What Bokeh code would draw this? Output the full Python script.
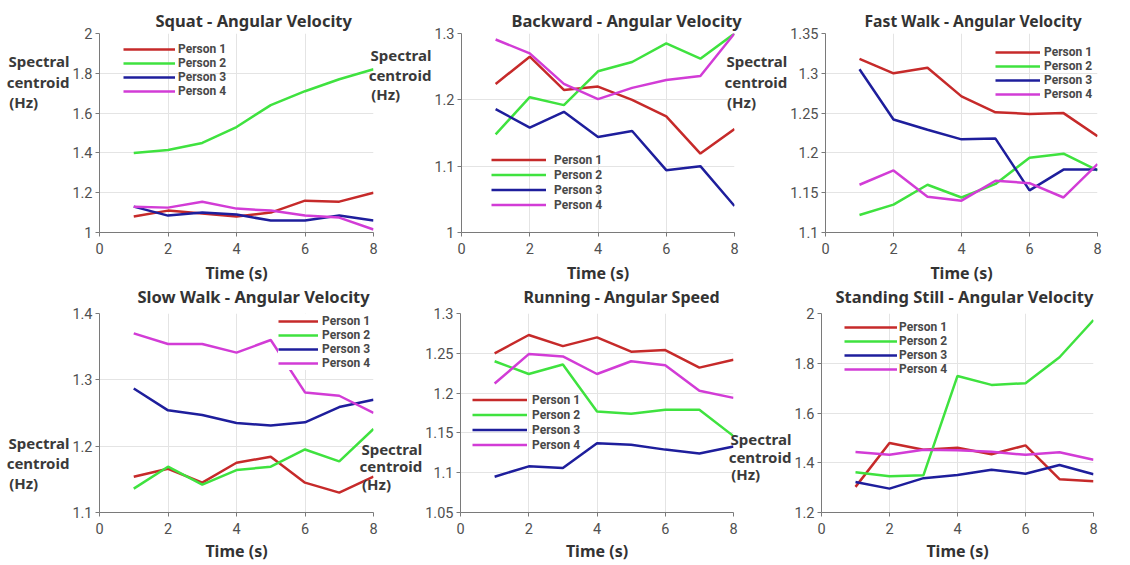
from bokeh.plotting import figure
from bokeh.layouts import row, column
from bokeh.models import FixedTicker, Legend, LegendItem, Range1d
from bokeh.embed import file_html
from bokeh.resources import INLINE

# ---------------- data ----------------
time_s = [1, 2, 3, 4, 5, 6, 7, 8]
person_names = ["Person 1", "Person 2", "Person 3", "Person 4"]
person_colors = ["#c62a2a", "#3fe23f", "#1e1e9c", "#d23cd6"]

x_ticks = [0, 2, 4, 6, 8]
x_tick_labels = ["0", "2", "4", "6", "8"]

squat_p1 = [1.08, 1.11, 1.095, 1.08, 1.10, 1.16, 1.155, 1.20]
squat_p2 = [1.40, 1.415, 1.45, 1.53, 1.64, 1.71, 1.77, 1.82]
squat_p3 = [1.13, 1.085, 1.10, 1.09, 1.06, 1.06, 1.085, 1.06]
squat_p4 = [1.13, 1.125, 1.155, 1.12, 1.11, 1.085, 1.075, 1.015]
squat_ticks = [1.0, 1.2, 1.4, 1.6, 1.8, 2.0]
squat_tick_labels = ["1", "1.2", "1.4", "1.6", "1.8", "2"]

backward_p1 = [1.224, 1.265, 1.215, 1.22, 1.20, 1.175, 1.119, 1.156]
backward_p2 = [1.148, 1.204, 1.192, 1.243, 1.257, 1.285, 1.262, 1.30]
backward_p3 = [1.186, 1.158, 1.182, 1.144, 1.153, 1.094, 1.10, 1.04]
backward_p4 = [1.291, 1.27, 1.224, 1.201, 1.218, 1.23, 1.236, 1.30]
backward_ticks = [1.0, 1.1, 1.2, 1.3]
backward_tick_labels = ["1", "1.1", "1.2", "1.3"]

fastwalk_p1 = [1.318, 1.30, 1.307, 1.271, 1.251, 1.249, 1.25, 1.221]
fastwalk_p2 = [1.122, 1.135, 1.16, 1.144, 1.161, 1.194, 1.199, 1.178]
fastwalk_p3 = [1.305, 1.242, 1.229, 1.217, 1.218, 1.153, 1.179, 1.179]
fastwalk_p4 = [1.16, 1.178, 1.145, 1.14, 1.165, 1.162, 1.144, 1.186]
fastwalk_ticks = [1.1, 1.15, 1.2, 1.25, 1.3, 1.35]
fastwalk_tick_labels = ["1.1", "1.15", "1.2", "1.25", "1.3", "1.35"]

slowwalk_p1 = [1.154, 1.166, 1.145, 1.175, 1.184, 1.145, 1.13, 1.154]
slowwalk_p2 = [1.136, 1.169, 1.142, 1.164, 1.169, 1.195, 1.177, 1.226]
slowwalk_p3 = [1.287, 1.254, 1.247, 1.235, 1.231, 1.236, 1.259, 1.27]
slowwalk_p4 = [1.37, 1.354, 1.354, 1.341, 1.36, 1.281, 1.276, 1.25]
slowwalk_ticks = [1.1, 1.2, 1.3, 1.4]
slowwalk_tick_labels = ["1.1", "1.2", "1.3", "1.4"]

running_p1 = [1.25, 1.273, 1.259, 1.27, 1.252, 1.254, 1.232, 1.242]
running_p2 = [1.24, 1.224, 1.236, 1.177, 1.174, 1.179, 1.179, 1.146]
running_p3 = [1.095, 1.108, 1.106, 1.137, 1.135, 1.129, 1.124, 1.133]
running_p4 = [1.212, 1.249, 1.246, 1.224, 1.24, 1.235, 1.203, 1.194]
running_ticks = [1.05, 1.1, 1.15, 1.2, 1.25, 1.3]
running_tick_labels = ["1.05", "1.1", "1.15", "1.2", "1.25", "1.3"]

standing_p1 = [1.303, 1.479, 1.452, 1.46, 1.434, 1.47, 1.334, 1.326]
standing_p2 = [1.362, 1.346, 1.35, 1.749, 1.713, 1.72, 1.824, 1.974]
standing_p3 = [1.323, 1.296, 1.338, 1.351, 1.372, 1.356, 1.391, 1.354]
standing_p4 = [1.443, 1.432, 1.452, 1.45, 1.444, 1.432, 1.442, 1.412]
standing_ticks = [1.2, 1.4, 1.6, 1.8, 2.0]
standing_tick_labels = ["1.2", "1.4", "1.6", "1.8", "2"]

# ---------------- styling ----------------
FONT = "Noto Sans"
TICK_FONT = "Roboto"
TITLE_COLOR = "#333333"
TICK_COLOR = "#505050"
AXIS_COLOR = "#7a7a7a"
GRID_COLOR = "#e4e4e4"
NBSP = "\u00a0"
YLABEL_LINES = ["Spectral", "centroid", "(Hz)" + NBSP * 8]


def make_panel(title, series, ticks, tick_labels, geom, legend_geom, row2):
    p = figure(
        output_backend="svg", toolbar_location=None,
        frame_width=geom["fw"], frame_height=199,
        min_border_left=geom["bl"], min_border_right=geom["br"],
        min_border_top=37 if row2 else 33,
        min_border_bottom=51 if row2 else 54,
        x_range=Range1d(0, 8), y_range=Range1d(ticks[0], ticks[-1]),
        margin=(-10 if row2 else 0, 0, 0, geom["ml"]),
    )
    p.border_fill_color = None
    p.background_fill_color = "white"
    p.outline_line_color = None

    p.title.text = title
    p.title.text_font = FONT
    p.title.text_font_size = geom["tfs"]
    p.title.text_font_style = "bold"
    p.title.text_color = TITLE_COLOR
    p.title.align = "left"
    p.title.offset = geom["toff"]
    p.title.standoff = 12 if row2 else 4

    p.xaxis.ticker = FixedTicker(ticks=x_ticks)
    p.xaxis.major_label_overrides = dict(zip(x_ticks, x_tick_labels))
    p.yaxis.ticker = FixedTicker(ticks=ticks)
    p.yaxis.major_label_overrides = dict(zip(ticks, tick_labels))

    for ax in (p.xaxis[0], p.yaxis[0]):
        ax.axis_line_color = AXIS_COLOR
        ax.major_tick_line_color = AXIS_COLOR
        ax.major_tick_out = 4
        ax.major_tick_in = 0
        ax.minor_tick_line_color = None
        ax.major_label_text_font = TICK_FONT
        ax.major_label_text_font_size = "14.5px"
        ax.major_label_text_color = TICK_COLOR
    p.yaxis.major_label_standoff = 3
    p.xaxis.major_label_standoff = 6
    p.xaxis.axis_label = "Time (s)"
    p.xaxis.axis_label_text_font = FONT
    p.xaxis.axis_label_text_font_size = "16px"
    p.xaxis.axis_label_text_font_style = "bold"
    p.xaxis.axis_label_text_color = TITLE_COLOR
    p.xaxis.axis_label_standoff = 3 if row2 else 5

    # horizontal, multi-line y label; blank lines shift it up/down
    pad = [""] * geom["pad"]
    lines = (pad + YLABEL_LINES) if row2 else (YLABEL_LINES + pad)
    p.yaxis.axis_label = "\n".join(lines)
    p.yaxis.axis_label_orientation = "horizontal"
    p.yaxis.axis_label_standoff = 0
    p.yaxis.axis_label_text_font = FONT
    p.yaxis.axis_label_text_font_size = "15px"
    p.yaxis.axis_label_text_font_style = "bold"
    p.yaxis.axis_label_text_color = "#3a3a3a"
    p.yaxis.axis_label_text_line_height = geom["lh"]

    p.xgrid.ticker = FixedTicker(ticks=x_ticks)
    p.ygrid.ticker = FixedTicker(ticks=ticks)
    p.grid.grid_line_color = GRID_COLOR
    p.grid.grid_line_width = 1

    items = []
    for name, color, ys in zip(person_names, person_colors, series):
        r = p.line(time_s, ys, line_color=color, line_width=2.5)
        items.append(LegendItem(label=name, renderers=[r]))

    leg = Legend(
        items=items, location=(legend_geom["x"], legend_geom["y"]),
        glyph_width=legend_geom["gw"], glyph_height=legend_geom["h"],
        label_height=legend_geom["h"], label_standoff=legend_geom["so"],
        spacing=0, padding=0, margin=0,
        border_line_color=None,
        background_fill_color="white",
        background_fill_alpha=legend_geom["bg"],
        label_text_font=TICK_FONT, label_text_font_size="12px",
        label_text_font_style="bold", label_text_color="#484848",
    )
    p.add_layout(leg)
    return p


f1 = make_panel("Squat - Angular Velocity",
                [squat_p1, squat_p2, squat_p3, squat_p4],
                squat_ticks, squat_tick_labels,
                dict(fw=274, bl=99, br=7, ml=0, toff=56, tfs="16.5px", pad=5, lh=1.025),
                dict(x=24, y=134, gw=52, h=14, so=3, bg=0), False)
f2 = make_panel("Backward - Angular Velocity",
                [backward_p1, backward_p2, backward_p3, backward_p4],
                backward_ticks, backward_tick_labels,
                dict(fw=273, bl=95, br=9, ml=-15, toff=50, tfs="16.5px", pad=6, lh=0.97),
                dict(x=30, y=20, gw=55, h=15, so=8, bg=0), False)
f3 = make_panel("Fast Walk - Angular Velocity",
                [fastwalk_p1, fastwalk_p2, fastwalk_p3, fastwalk_p4],
                fastwalk_ticks, fastwalk_tick_labels,
                dict(fw=272, bl=101, br=35, ml=-22, toff=39, tfs="15.7px", pad=5, lh=1.025),
                dict(x=170, y=131, gw=45, h=14, so=4, bg=0), False)
f4 = make_panel("Slow Walk - Angular Velocity",
                [slowwalk_p1, slowwalk_p2, slowwalk_p3, slowwalk_p4],
                slowwalk_ticks, slowwalk_tick_labels,
                dict(fw=274, bl=99, br=7, ml=0, toff=38, tfs="16.5px", pad=5, lh=1.0),
                dict(x=179, y=142, gw=40, h=14, so=4, bg=1), True)
f5 = make_panel("Running - Angular Speed",
                [running_p1, running_p2, running_p3, running_p4],
                running_ticks, running_tick_labels,
                dict(fw=273, bl=104, br=9, ml=-24, toff=63, tfs="16px", pad=6, lh=0.89),
                dict(x=12, y=60, gw=55, h=15, so=5, bg=0), True)
f6 = make_panel("Standing Still - Angular Velocity",
                [standing_p1, standing_p2, standing_p3, standing_p4],
                standing_ticks, standing_tick_labels,
                dict(fw=272, bl=101, br=35, ml=-22, toff=14, tfs="16.5px", pad=5, lh=0.87),
                dict(x=23, y=136, gw=53, h=14, so=2, bg=0), True)

layout = column(row(f1, f2, f3), row(f4, f5, f6))

open("out.html", "w").write(file_html(layout, INLINE))
